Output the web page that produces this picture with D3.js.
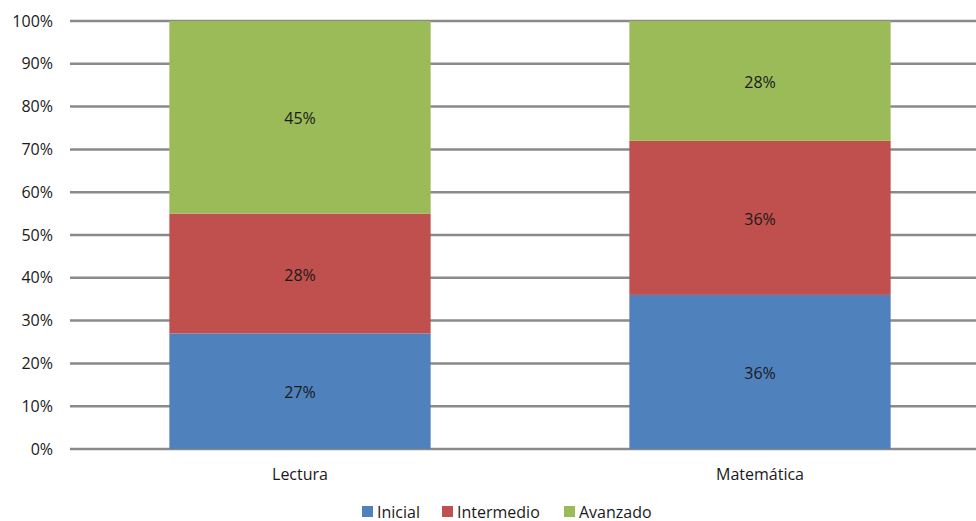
<!DOCTYPE html>
<html>
<head>
<meta charset="utf-8">
<script src="https://cdn.jsdelivr.net/npm/d3@7"></script>
<style>
  html, body { margin: 0; padding: 0; background: #fff; }
  svg { display: block; }
  text { font-family: "Open Sans", Lato, sans-serif; fill: #1a1a1a; }
</style>
</head>
<body>
<svg id="chart" width="976" height="521"></svg>
<script>
// Share of students per performance level
const categories = ["Lectura", "Matemática"];
const levels = ["Inicial", "Intermedio", "Avanzado"];
const inicial = [27, 36];
const intermedio = [28, 36];
const avanzado = [45, 28];
const yTicks = [0, 10, 20, 30, 40, 50, 60, 70, 80, 90, 100];
const colors = ["#4f81bd", "#c0504d", "#9bbb59"];

const FONT = "'Open Sans', Lato, sans-serif";
const FS = "16px";

const svg = d3.select("#chart");
const margin = { left: 70, top: 21, bottom: 449 };

const x = d3.scaleBand().domain(categories).range([margin.left, 990]).paddingInner(0.432).paddingOuter(0.216);
const y = d3.scaleLinear().domain([0, 100]).range([margin.bottom, margin.top]);

// Horizontal gridlines
svg.append("g").selectAll("line").data(yTicks).join("line")
  .attr("x1", margin.left).attr("x2", 976)
  .attr("y1", d => y(d)).attr("y2", d => y(d))
  .attr("stroke", "#8a8a8a").attr("stroke-width", 2.5);

// Y axis labels
const yAxis = d3.axisLeft(y).tickValues(yTicks).tickFormat(d => d + "%").tickSize(0).tickPadding(17);
const gy = svg.append("g").attr("transform", `translate(${margin.left},0)`).call(yAxis);
gy.select(".domain").remove();
gy.selectAll("text").style("font-size", FS).style("font-family", FONT).attr("fill", "#1a1a1a");

// Stack the series
const rows = categories.map((c, i) => ({ cat: c, Inicial: inicial[i], Intermedio: intermedio[i], Avanzado: avanzado[i] }));
const stacked = d3.stack().keys(levels)(rows);

const groups = svg.append("g").selectAll("g").data(stacked).join("g")
  .attr("fill", (d, i) => colors[i]);

groups.selectAll("rect").data(d => d).join("rect")
  .attr("x", d => x(d.data.cat))
  .attr("width", x.bandwidth())
  .attr("y", d => y(d[1]))
  .attr("height", d => y(d[0]) - y(d[1]));

// Value labels centered in each segment
groups.selectAll("text").data(d => d).join("text")
  .attr("x", d => x(d.data.cat) + x.bandwidth() / 2)
  .attr("y", d => (y(d[0]) + y(d[1])) / 2 + 1)
  .attr("text-anchor", "middle")
  .attr("dominant-baseline", "central")
  .attr("fill", "#1a1a1a")
  .style("font-size", FS)
  .text(d => (d[1] - d[0]) + "%");

// Category axis
const xAxis = d3.axisBottom(x).tickSize(0).tickPadding(20);
const gx = svg.append("g").attr("transform", `translate(0,${margin.bottom})`).call(xAxis);
gx.select(".domain").remove();
gx.selectAll("text").style("font-size", FS).style("font-family", FONT).attr("fill", "#1a1a1a");

// Legend
const legendX = [362, 442, 564];
const legend = svg.append("g").selectAll("g").data(levels).join("g")
  .attr("transform", (d, i) => `translate(${legendX[i]},506)`);
legend.append("rect").attr("width", 11).attr("height", 11).attr("fill", (d, i) => colors[i]);
legend.append("text").attr("x", 15).attr("y", 5.5).attr("dominant-baseline", "central")
  .attr("fill", "#1a1a1a")
  .style("font-size", FS).text(d => d);
</script>
</body>
</html>
